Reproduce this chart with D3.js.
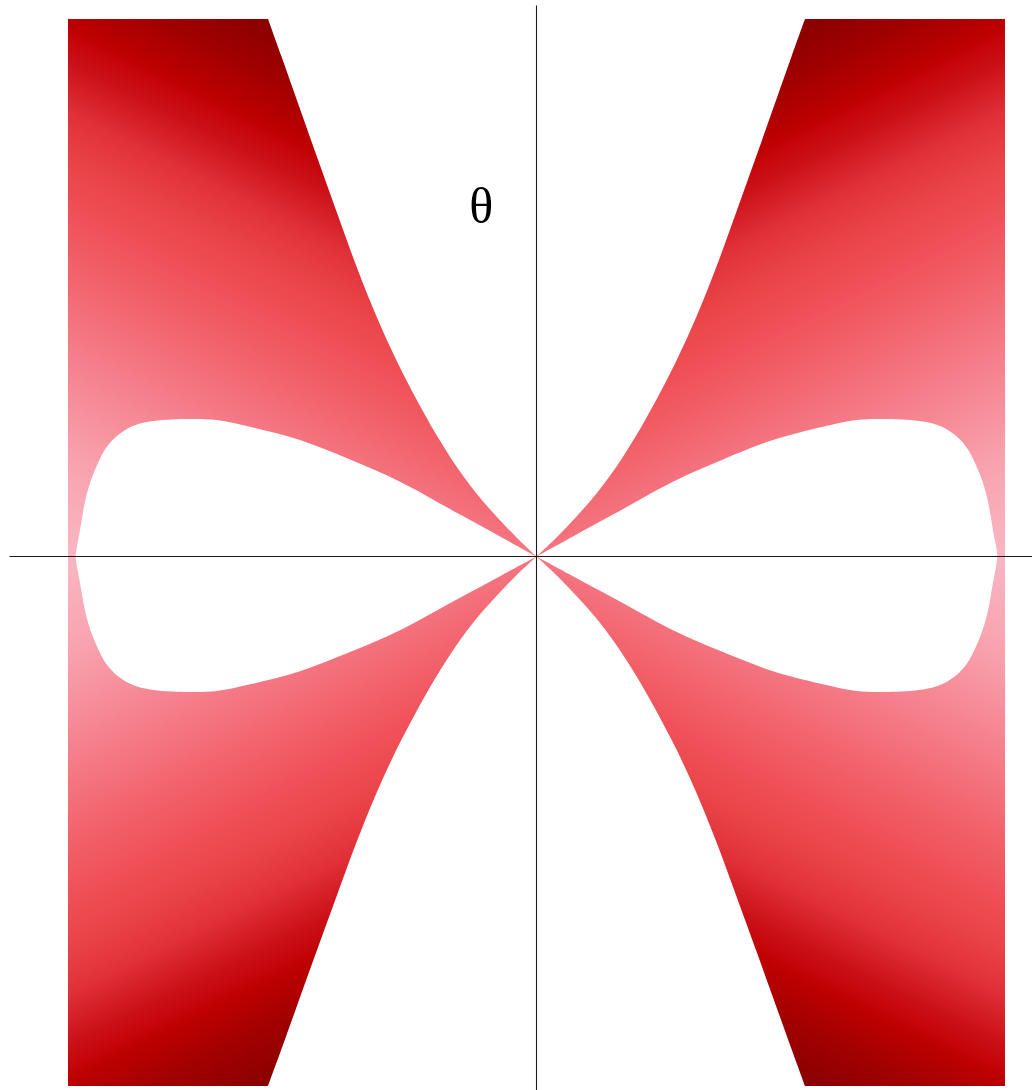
<!DOCTYPE html>
<html>
<head>
<meta charset="utf-8">
<script src="https://cdn.jsdelivr.net/npm/d3@7"></script>
<style>
  html, body { margin: 0; padding: 0; background: #ffffff; }
  svg { display: block; }
</style>
</head>
<body>
<svg id="chart" width="1032" height="1090"></svg>
<script>
// Outer edge of the band (upper-left branch), from the top of the range down to the origin
const outerX = [-0.5731, -0.5443, -0.5123, -0.4696, -0.4269, -0.3842, -0.3415, -0.2988, -0.2561, -0.2134, -0.1708, -0.1281, -0.0854, -0.0427, 0];
const outerY = [1.0000, 0.9302, 0.8512, 0.7460, 0.6419, 0.5395, 0.4465, 0.3647, 0.2921, 0.2260, 0.1674, 0.1172, 0.0744, 0.0353, 0];

// Edge of the excluded loop (upper-left half), from the origin out to its tip on the x axis
const loopX = [0, -0.0779, -0.1633, -0.2913, -0.3981, -0.5048, -0.6115, -0.6826, -0.7503, -0.8250, -0.8613, -0.8933, -0.9189, -0.9370, -0.9509, -0.9616, -0.9690, -0.9755, -0.9808, -0.9840];
const loopY = [0, 0.0372, 0.0780, 0.1392, 0.1805, 0.2167, 0.2415, 0.2540, 0.2558, 0.2512, 0.2428, 0.2260, 0.2019, 0.1721, 0.1423, 0.1107, 0.0772, 0.0437, 0.0195, 0];

// Plot range and axis extent
const xRange = [-1, 1];
const thetaRange = [-1, 1];
const axisXExtent = [-1.125, 1.06];
const axisYExtent = [-1.01, 1.025];
const axisLabel = "θ";
const labelAt = [-0.118, 0.62];

// Shading: colour depends on |θ| − tilt·|x|
const tilt = 0.436;
const shadeLevels = [-0.428, -0.260, -0.130, 0, 0.112, 0.205, 0.298, 0.391, 0.484, 0.558, 0.651, 0.744];
const shadeColours = ["#f9b6c2", "#f8a4b0", "#f68c98", "#f47480", "#f26068", "#f05058", "#ea4448", "#e03038", "#cc1018", "#bc0000", "#a00000", "#8b0000"];

const svg = d3.select("#chart");

const x = d3.scaleLinear().domain([xRange[0], 0, xRange[1]]).range([68, 536.5, 1005]);
const y = d3.scaleLinear().domain([thetaRange[0], 0, thetaRange[1]]).range([1086, 556.5, 19]);

const smooth = d3.line()
  .x(d => x(d[0]))
  .y(d => y(d[1]))
  .curve(d3.curveCatmullRom.alpha(0.5));

// continue an open path with a smoothed run of points
function run(pts) {
  return smooth(pts).replace(/^M/, "L");
}

const outerPts = outerX.map((v, i) => [v, outerY[i]]);
const loopPts = loopX.map((v, i) => [v, loopY[i]]);

const defs = svg.append("defs");
const quadrants = [[-1, 1], [1, 1], [-1, -1], [1, -1]];

const x0 = x(0), y0 = y(0);
const vMin = shadeLevels[0], vMax = shadeLevels[shadeLevels.length - 1];

quadrants.forEach(([sx, sy], qi) => {
  // gradient along the direction in which the shading level grows fastest (screen space)
  const kx = Math.abs(x(sx) - x0);
  const ky = Math.abs(y(sy) - y0);
  const gx = -sx * tilt / kx;
  const gy = -sy / ky;
  const g2 = gx * gx + gy * gy;
  const at = v => [x0 + v * gx / g2, y0 + v * gy / g2];
  const p1 = at(vMin), p2 = at(vMax);

  const grad = defs.append("linearGradient")
    .attr("id", "shade" + qi)
    .attr("gradientUnits", "userSpaceOnUse")
    .attr("x1", p1[0]).attr("y1", p1[1])
    .attr("x2", p2[0]).attr("y2", p2[1]);
  grad.selectAll("stop")
    .data(shadeLevels)
    .join("stop")
    .attr("offset", v => (v - vMin) / (vMax - vMin))
    .attr("stop-color", (v, i) => shadeColours[i]);

  const o = outerPts.map(([a, b]) => [sx * -a, sy * b]);
  const l = loopPts.map(([a, b]) => [sx * -a, sy * b]);

  const d = `M${x(sx)},${y(sy)}` + run(o) + run(l) + `L${x(sx)},${y0}Z`;

  svg.append("path")
    .attr("d", d)
    .attr("fill", `url(#shade${qi})`)
    .attr("stroke", "none");
});

// axes through the origin
const axes = svg.append("g").attr("stroke", "#1a1a1a").attr("stroke-width", 1.1);
axes.append("line")
  .attr("x1", x(axisXExtent[0])).attr("x2", x(axisXExtent[1]))
  .attr("y1", y0).attr("y2", y0);
axes.append("line")
  .attr("x1", x0).attr("x2", x0)
  .attr("y1", y(axisYExtent[1])).attr("y2", y(axisYExtent[0]));

svg.append("text")
  .attr("x", x(labelAt[0]))
  .attr("y", y(labelAt[1]))
  .attr("text-anchor", "middle")
  .attr("font-family", "'Liberation Serif', 'DejaVu Serif', serif")
  .attr("font-size", 50)
  .attr("fill", "#000")
  .text(axisLabel);
</script>
</body>
</html>
